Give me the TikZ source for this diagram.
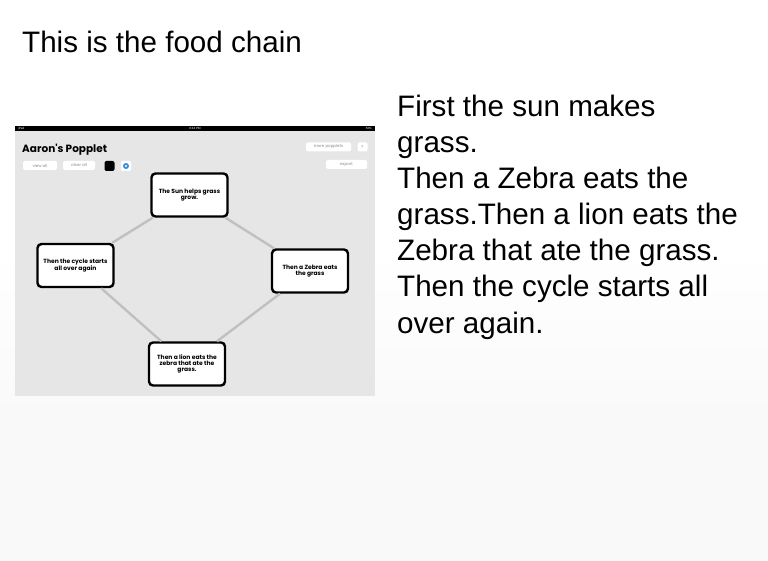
\documentclass[tikz,border=0pt]{standalone}
\usepackage{fontspec}
\setmainfont{Liberation Sans}
\newfontfamily\popfont{Poppins}
\usetikzlibrary{positioning}

\definecolor{screengray}{HTML}{E6E6E6}
\definecolor{linkgray}{HTML}{C0C0C0}
\definecolor{pagegray}{HTML}{F9F9F9}
\definecolor{gearblue}{HTML}{2F8FE0}
\definecolor{btntext}{HTML}{8A8A8A}

\tikzset{
  popbox/.style={draw, line width=2.4pt, rounded corners=4pt, fill=white,
    minimum width=76pt, minimum height=43pt, align=center,
    font=\popfont\bfseries\fontsize{6}{6.3}\selectfont},
  link/.style={draw=linkgray, line width=2.4pt},
  btn/.style={fill=white, rounded corners=1.5pt, inner sep=0pt, minimum height=9pt,
    font=\popfont\fontsize{4}{4}\selectfont, text=btntext},
  bodytext/.style={anchor=base west, inner sep=0pt, font=\fontsize{29.6}{36}\selectfont},
  statustext/.style={inner sep=0pt, text=white, font=\fontsize{3}{3}\selectfont},
}

\begin{document}
\begin{tikzpicture}[x=1pt, y=-1pt]
    % Page
    \fill[pagegray] (0,0) rectangle (768,561);
    \fill[white] (0,0) rectangle (768,250);
    \shade[top color=white, bottom color=pagegray] (0,249) rectangle (768,420);
    \useasboundingbox (0,0) rectangle (768,561);

    % Title and text
    \node[bodytext] (title) at (22,53) {This is the food chain};
    \foreach \ln [count=\i] in {First the sun makes, grass., Then a Zebra eats the,
        grass.Then a lion eats the, Zebra that ate the grass.,
        Then the cycle starts all, over again.}
        \node[bodytext] (line\i) at (397,{117+36*(\i-1)}) {\ln};

    % Screenshot
    \fill[screengray] (15,126) rectangle (375,396);
    \fill[black] (15,126) rectangle (375,131.5);
    \node[statustext, anchor=west] (ipad) at (18,128.8) {iPad};
    \node[statustext] (clock) at (195,128.8) {8:44 PM};
    \node[statustext, anchor=east] (battery) at (372,128.8) {53\%};

    \node[anchor=base west, inner sep=0pt, font=\popfont\bfseries\fontsize{10.5}{10.5}\selectfont]
        (appname) at (22,153) {Aaron's Popplet};
    \node[btn, minimum width=34pt] (viewall) at (40,165.5) {view all};
    \node[btn, minimum width=32pt] (clearall) at (79,165.5) {clear all};
    \node[fill=black, rounded corners=2pt, minimum size=10pt, inner sep=0pt] (colorpick) at (109.5,166) {};
    \node[fill=white, rounded corners=1.5pt, minimum size=10pt, inner sep=0pt] (settings) at (126,166) {};
    \fill[gearblue] (settings) circle (3pt);
    \fill[white] (settings) circle (1.2pt);
    \node[btn, minimum width=45pt] (more) at (328.5,147) {more popplets};
    \node[btn, minimum width=10pt] (help) at (362.5,147) {?};
    \node[btn, minimum width=41pt] (export) at (346.5,164.5) {export};

    % Popples
    \node[popbox] (sun) at (189.5,195) {The Sun helps grass\\grow.};
    \node[popbox] (zebra) at (310,271) {Then a Zebra eats\\the grass};
    \node[popbox] (lion) at (187,364) {Then a lion eats the\\zebra that ate the\\grass.};
    \node[popbox] (cycle) at (75.5,265.5) {Then the cycle starts\\all over again};

    % Links
    \draw[link] (sun) -- (cycle);
    \draw[link] (sun) -- (zebra);
    \draw[link] (zebra) -- (lion);
    \draw[link] (cycle) -- (lion);
\end{tikzpicture}
\end{document}
